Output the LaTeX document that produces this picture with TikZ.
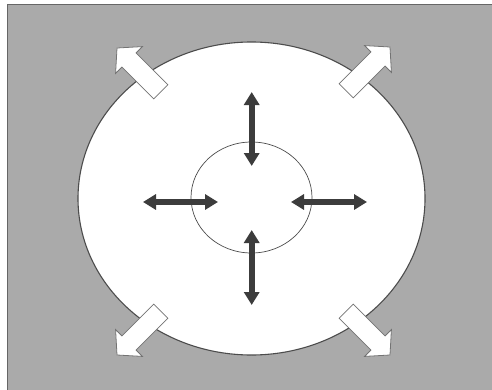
\documentclass[tikz,border=0pt]{standalone}
\usetikzlibrary{arrows.meta, shapes.geometric}
\definecolor{bggray}{HTML}{AAAAAA}
\definecolor{inkgray}{HTML}{3C3C3C}

\begin{document}
\begin{tikzpicture}[
    x=1pt, y=1pt,
    disc/.style   ={draw=black!70, ellipse, fill=white, inner sep=0pt},
    push/.style   ={{Triangle[width=15pt,length=13pt]}-{Triangle[width=15pt,length=13pt]},
                    line width=6pt, draw=inkgray},
    outflow/.style={draw=black!55, fill=white, line width=0.8pt, line join=miter},
]
\useasboundingbox (0,0) rectangle (492,389);
\draw[fill=bggray, draw=black!60, line width=1pt] (7,384) rectangle (500,-10);
\node[disc, line width=1.1pt, minimum width=347pt, minimum height=313pt] (outer) at (251.5,190.5) {};
\node[disc, line width=0.7pt, minimum width=121pt, minimum height=111pt] (inner) at (251.5,191.5) {};
% double arrows across the inner boundary
\coordinate (t1) at (251.7,297); \coordinate (t2) at (251.7,223);
\coordinate (b1) at (251.7,159); \coordinate (b2) at (251.7,84);
\coordinate (l1) at (143,187);   \coordinate (l2) at (218,187);
\coordinate (r1) at (291,187);   \coordinate (r2) at (367,187);
\draw[push] (t1) -- (t2);
\draw[push] (b1) -- (b2);
\draw[push] (l1) -- (l2);
\draw[push] (r1) -- (r2);
% hollow arrows pointing out of the big disc
\foreach \tx/\ty/\ang in {117/341/135, 390/342/45, 117/34/225, 390/34/315}
  \draw[outflow, shift={(\tx,\ty)}, rotate=\ang]
    (0,0) -- (-17,19) -- (-17,10) -- (-62,10) -- (-62,-10) -- (-17,-10) -- (-17,-19) -- cycle;
\end{tikzpicture}
\end{document}
